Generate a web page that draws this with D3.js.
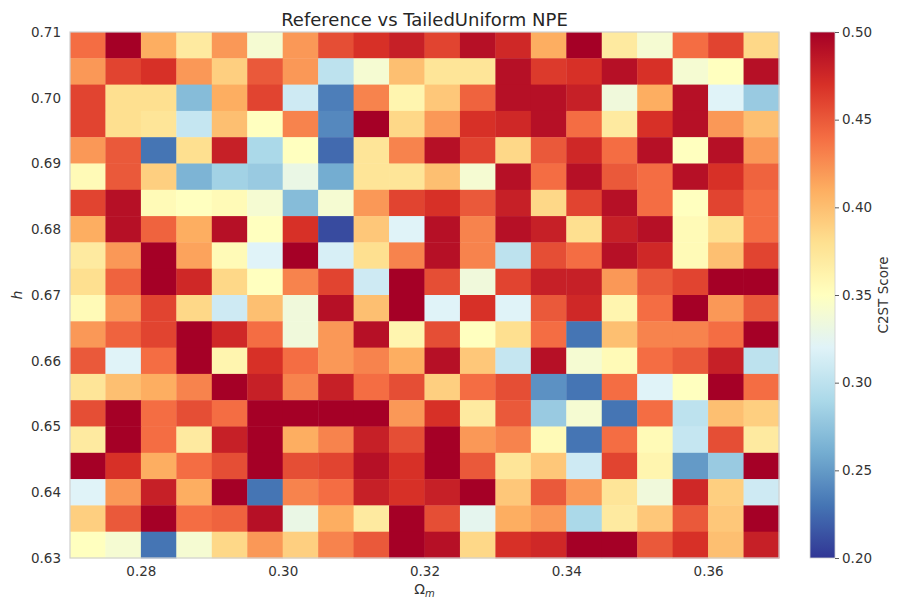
<!DOCTYPE html>
<html>
<head>
<meta charset="utf-8">
<script src="https://cdn.jsdelivr.net/npm/d3@7"></script>
<style>
  html, body { margin: 0; padding: 0; background: #fff; }
  svg { display: block; font-family: "DejaVu Sans", sans-serif; }
</style>
</head>
<body>
<svg id="chart" width="897" height="599"></svg>
<script>
// ---------------- data ----------------
const chartTitle = "Reference vs TailedUniform NPE";
// left edges of the Omega_m bins (width 0.005)
const omegaBins = [0.270, 0.275, 0.280, 0.285, 0.290, 0.295, 0.300, 0.305, 0.310, 0.315,
                   0.320, 0.325, 0.330, 0.335, 0.340, 0.345, 0.350, 0.355, 0.360, 0.365];
const omegaBinWidth = 0.005;
// lower edges of the h bins, top row first (width 0.004)
const hBins = [0.706, 0.702, 0.698, 0.694, 0.690, 0.686, 0.682, 0.678, 0.674, 0.670,
               0.666, 0.662, 0.658, 0.654, 0.650, 0.646, 0.642, 0.638, 0.634, 0.630];
const hBinWidth = 0.004;
const xTicks = [0.28, 0.30, 0.32, 0.34, 0.36];
const yTicks = [0.63, 0.64, 0.65, 0.66, 0.67, 0.68, 0.69, 0.70, 0.71];
const cbarTicks = [0.20, 0.25, 0.30, 0.35, 0.40, 0.45, 0.50];
// C2ST scores, one row per h bin (top row first), one column per Omega_m bin
const c2stRows = [
  [0.44, 0.50, 0.41, 0.37, 0.42, 0.34, 0.42, 0.455, 0.47, 0.48, 0.46, 0.49, 0.475, 0.41, 0.50, 0.37, 0.34, 0.44, 0.46, 0.385],
  [0.42, 0.46, 0.47, 0.42, 0.39, 0.45, 0.42, 0.30, 0.34, 0.40, 0.375, 0.375, 0.49, 0.465, 0.47, 0.49, 0.47, 0.34, 0.35, 0.49],
  [0.46, 0.38, 0.38, 0.27, 0.41, 0.46, 0.31, 0.235, 0.43, 0.36, 0.395, 0.445, 0.49, 0.49, 0.48, 0.335, 0.41, 0.49, 0.32, 0.28],
  [0.46, 0.38, 0.375, 0.305, 0.40, 0.35, 0.43, 0.24, 0.50, 0.385, 0.42, 0.47, 0.475, 0.49, 0.44, 0.37, 0.47, 0.49, 0.42, 0.40],
  [0.42, 0.45, 0.23, 0.38, 0.48, 0.29, 0.35, 0.225, 0.375, 0.43, 0.49, 0.46, 0.385, 0.45, 0.475, 0.44, 0.49, 0.35, 0.49, 0.42],
  [0.355, 0.45, 0.39, 0.265, 0.285, 0.28, 0.33, 0.26, 0.375, 0.375, 0.40, 0.34, 0.49, 0.44, 0.49, 0.45, 0.44, 0.49, 0.47, 0.445],
  [0.46, 0.49, 0.355, 0.35, 0.355, 0.34, 0.27, 0.34, 0.42, 0.46, 0.47, 0.45, 0.48, 0.385, 0.46, 0.49, 0.44, 0.35, 0.46, 0.44],
  [0.41, 0.49, 0.445, 0.41, 0.49, 0.35, 0.47, 0.21, 0.395, 0.32, 0.49, 0.43, 0.49, 0.48, 0.38, 0.48, 0.49, 0.355, 0.38, 0.44],
  [0.37, 0.42, 0.50, 0.415, 0.355, 0.32, 0.50, 0.315, 0.38, 0.43, 0.49, 0.43, 0.30, 0.455, 0.44, 0.49, 0.475, 0.355, 0.40, 0.46],
  [0.38, 0.445, 0.50, 0.475, 0.385, 0.35, 0.43, 0.46, 0.31, 0.50, 0.455, 0.335, 0.46, 0.48, 0.48, 0.42, 0.45, 0.46, 0.50, 0.50],
  [0.355, 0.42, 0.46, 0.385, 0.31, 0.40, 0.335, 0.49, 0.40, 0.50, 0.32, 0.47, 0.32, 0.45, 0.475, 0.36, 0.44, 0.50, 0.42, 0.45],
  [0.42, 0.445, 0.46, 0.50, 0.475, 0.44, 0.335, 0.42, 0.49, 0.36, 0.455, 0.35, 0.38, 0.44, 0.23, 0.40, 0.43, 0.43, 0.44, 0.50],
  [0.45, 0.32, 0.44, 0.50, 0.36, 0.47, 0.44, 0.42, 0.43, 0.41, 0.49, 0.395, 0.305, 0.49, 0.34, 0.355, 0.44, 0.45, 0.48, 0.30],
  [0.375, 0.40, 0.41, 0.43, 0.50, 0.48, 0.43, 0.48, 0.44, 0.455, 0.39, 0.44, 0.455, 0.245, 0.23, 0.44, 0.32, 0.35, 0.50, 0.44],
  [0.455, 0.50, 0.44, 0.455, 0.44, 0.50, 0.50, 0.50, 0.50, 0.42, 0.47, 0.37, 0.45, 0.28, 0.34, 0.23, 0.44, 0.30, 0.40, 0.39],
  [0.37, 0.50, 0.44, 0.37, 0.48, 0.50, 0.41, 0.43, 0.48, 0.455, 0.50, 0.42, 0.43, 0.355, 0.23, 0.44, 0.355, 0.305, 0.455, 0.37],
  [0.50, 0.47, 0.41, 0.44, 0.455, 0.50, 0.455, 0.46, 0.49, 0.47, 0.50, 0.45, 0.375, 0.395, 0.31, 0.46, 0.36, 0.25, 0.28, 0.50],
  [0.32, 0.42, 0.48, 0.41, 0.50, 0.23, 0.43, 0.44, 0.48, 0.47, 0.48, 0.50, 0.395, 0.45, 0.42, 0.375, 0.335, 0.475, 0.39, 0.31],
  [0.39, 0.45, 0.50, 0.44, 0.445, 0.49, 0.33, 0.41, 0.37, 0.50, 0.455, 0.325, 0.41, 0.42, 0.29, 0.37, 0.395, 0.45, 0.395, 0.50],
  [0.35, 0.34, 0.23, 0.34, 0.385, 0.42, 0.39, 0.43, 0.45, 0.50, 0.49, 0.385, 0.47, 0.475, 0.50, 0.50, 0.45, 0.47, 0.40, 0.48]
];
const colorMin = 0.20, colorMax = 0.50;

// ---------------- layout ----------------
const svg = d3.select("#chart");
const plot = { left: 70, right: 779, top: 32, bottom: 558 };
const cbar = { left: 810, width: 25 };
const textColor = "#333333";

const x = d3.scaleLinear().domain([0.27, 0.37]).range([plot.left, plot.right]);
const y = d3.scaleLinear().domain([0.63, 0.71]).range([plot.bottom, plot.top]);

// RdYlBu reversed, linear between the ColorBrewer anchors (matplotlib style)
const rdylbu = ["#a50026","#d73027","#f46d43","#fdae61","#fee090","#ffffbf",
                "#e0f3f8","#abd9e9","#74add1","#4575b4","#313695"];
const anchors = rdylbu.slice().reverse();
const color = d3.scaleLinear()
  .domain(d3.range(anchors.length).map(i => colorMin + (colorMax - colorMin) * i / (anchors.length - 1)))
  .range(anchors)
  .interpolate(d3.interpolateRgb)
  .clamp(true);

// ---------------- cells ----------------
const cells = [];
c2stRows.forEach((row, ri) => {
  row.forEach((v, ci) => {
    cells.push({ om: omegaBins[ci], h: hBins[ri], v });
  });
});

svg.append("g")
  .selectAll("rect")
  .data(cells)
  .join("rect")
  .attr("x", d => x(d.om))
  .attr("y", d => y(d.h + hBinWidth))
  .attr("width", d => x(d.om + omegaBinWidth) - x(d.om) + 0.4)
  .attr("height", d => y(d.h) - y(d.h + hBinWidth) + 0.4)
  .attr("fill", d => color(d.v));

// frame
svg.append("rect")
  .attr("x", plot.left).attr("y", plot.top)
  .attr("width", plot.right - plot.left).attr("height", plot.bottom - plot.top)
  .attr("fill", "none").attr("stroke", "#d0d0d0").attr("stroke-width", 1.2);

// ---------------- axes ----------------
const xAxis = svg.append("g")
  .attr("transform", `translate(0,${plot.bottom})`)
  .call(d3.axisBottom(x).tickValues(xTicks).tickFormat(d3.format(".2f")).tickSize(0).tickPadding(8));
xAxis.select(".domain").remove();
xAxis.selectAll("text").attr("fill", textColor).style("font-size", "13.5px").style("font-family", "DejaVu Sans");

const yAxis = svg.append("g")
  .attr("transform", `translate(${plot.left},0)`)
  .call(d3.axisLeft(y).tickValues(yTicks).tickFormat(d3.format(".2f")).tickSize(0).tickPadding(9));
yAxis.select(".domain").remove();
yAxis.selectAll("text").attr("fill", textColor).style("font-size", "13.5px").style("font-family", "DejaVu Sans");

// title
svg.append("text")
  .attr("x", (plot.left + plot.right) / 2).attr("y", 26)
  .attr("text-anchor", "middle")
  .attr("fill", "#262626")
  .style("font-size", "18px")
  .text(chartTitle);

// x label Omega_m
const xl = svg.append("text")
  .attr("x", (plot.left + plot.right) / 2).attr("y", 594)
  .attr("text-anchor", "middle")
  .attr("fill", textColor)
  .style("font-size", "14px");
xl.append("tspan").text("Ω");
xl.append("tspan").attr("font-style", "italic").attr("dy", 3).style("font-size", "10px").text("m");

// y label h
svg.append("text")
  .attr("transform", `translate(22,${(plot.top + plot.bottom) / 2}) rotate(-90)`)
  .attr("text-anchor", "middle")
  .attr("fill", textColor)
  .attr("font-style", "italic")
  .style("font-size", "14px")
  .text("h");

// ---------------- colorbar ----------------
const cy = d3.scaleLinear().domain([colorMin, colorMax]).range([plot.bottom, plot.top]);
const defs = svg.append("defs");
const grad = defs.append("linearGradient")
  .attr("id", "cbgrad").attr("x1", 0).attr("y1", 1).attr("x2", 0).attr("y2", 0);
d3.range(0, 1.0001, 0.02).forEach(t => {
  grad.append("stop").attr("offset", t).attr("stop-color", color(colorMin + t * (colorMax - colorMin)));
});
svg.append("rect")
  .attr("x", cbar.left).attr("y", plot.top)
  .attr("width", cbar.width).attr("height", plot.bottom - plot.top)
  .attr("fill", "url(#cbgrad)")
  .attr("stroke", "#d0d0d0").attr("stroke-width", 0.8);

const cAxis = svg.append("g")
  .attr("transform", `translate(${cbar.left + cbar.width},0)`)
  .call(d3.axisRight(cy).tickValues(cbarTicks).tickFormat(d3.format(".2f")).tickSize(4).tickPadding(3));
cAxis.select(".domain").remove();
cAxis.selectAll("line").attr("stroke", textColor).attr("stroke-width", 0.8);
cAxis.selectAll("text").attr("fill", textColor).style("font-size", "13.5px").style("font-family", "DejaVu Sans");

svg.append("text")
  .attr("transform", `translate(888,${(plot.top + plot.bottom) / 2}) rotate(-90)`)
  .attr("text-anchor", "middle")
  .attr("fill", textColor)
  .style("font-size", "13.5px")
  .text("C2ST Score");
</script>
</body>
</html>
